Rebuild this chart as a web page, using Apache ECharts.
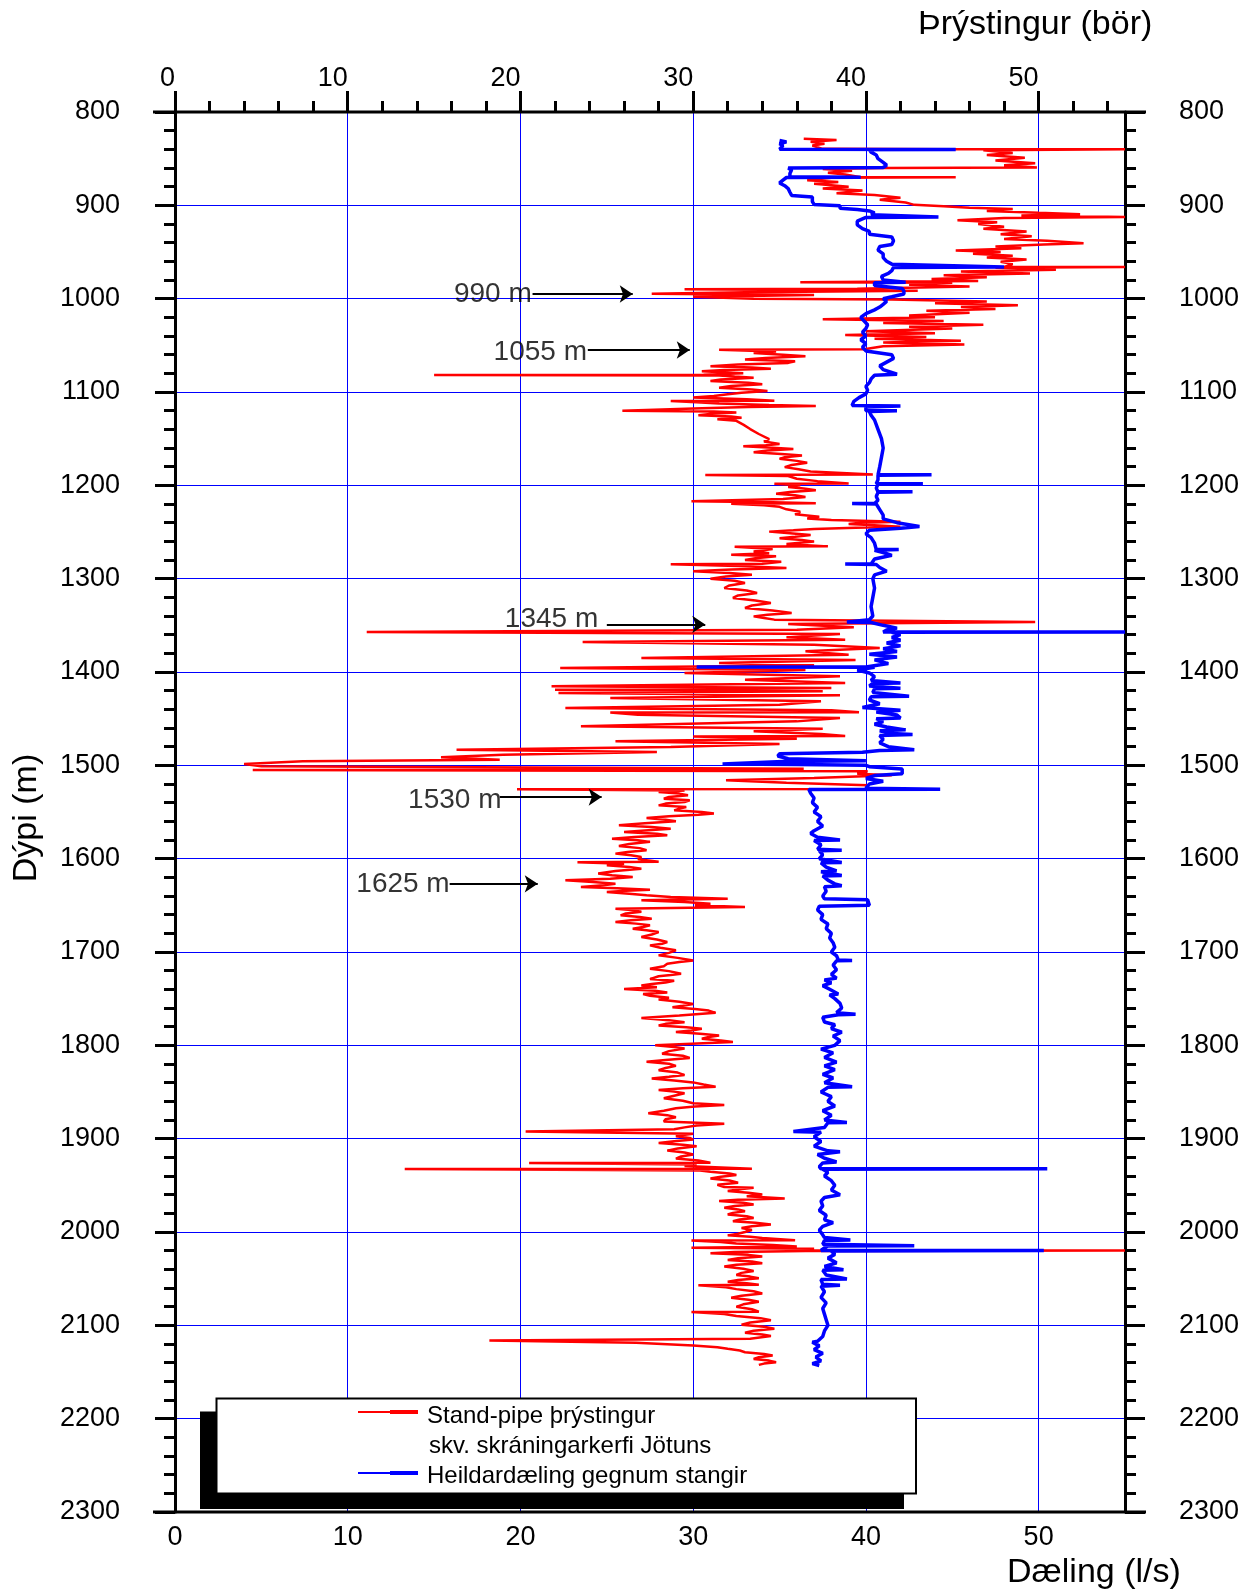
<!DOCTYPE html>
<html>
<head>
<meta charset="utf-8">
<script src="https://cdn.jsdelivr.net/npm/echarts@6/dist/echarts.min.js"></script>
<style>
html,body{margin:0;padding:0;background:#ffffff;}
#chart{width:1259px;height:1594px;}
</style>
</head>
<body>
<div id="chart"></div>
<script>
// Stand-pipe pressure (bar) logged against bit depth (m): [depth, pressure]
const standPipePressure = [
[828.7,36.4],[830,38.3],[832,36.8],[834,37.6],[836,36.9],[839.5,37.5],[840,45.3],[840,55],[841,46.8],[844,48.5],[846,47],[849,49.2],[852,47.5],[855,49.8],[857,48],[859.5,49.9],[860.1,41],[861,37.5],[863,39.2],[865,37.8],[867,38.8],[869.8,39.7],[869.8,45.2],[870.5,38],[873,36.6],[875,38.4],[877,37],[880,39],[882,37.5],[884,39.8],[887,38.3],[889,40.5],[892,42],[894,40.8],[897,42.3],[899.5,42.8],[901,44.5],[902.5,46],[904,48.5],[906,47],[908,50],[909.5,52.4],[911,49],[912.6,55],[913.5,48],[916,45.3],[918,47.6],[920,46.5],[923,48],[925,46.8],[928,49.3],[931,47.8],[933,49.6],[936,48],[938,50.5],[940.5,52.6],[942,50.3],[944,47.5],[946,49],[948.4,45.2],[950,47.8],[952,46.2],[954,48.5],[956,47],[958,49.3],[960.5,47.8],[963,48.5],[966,48],[966.2,55],[967,47.5],[969,51],[971,45.5],[973,49.5],[975,44.5],[977,47],[979,43.8],[981,46.5],[982.3,36.2],[983,45],[985,42.5],[987,46],[989.4,39.5],[990,29.5],[991.5,43],[993,33],[994.8,27.6],[996,37],[998,30],[1000,33.5],[1001,41.5],[1003,47],[1005,44],[1007,48.8],[1009,45.5],[1011,47.5],[1013,43.5],[1015,46],[1018,42.5],[1020,44],[1022,37.5],[1024,44.5],[1026,41],[1028,46.8],[1030,42.5],[1032,45],[1035,40],[1037,44],[1039,38.8],[1041,43.5],[1043,40.5],[1045,45.5],[1047,41],[1049,45.7],[1051,41],
[1054.3,39.9],[1054.6,31.5],[1056.5,34.8],[1058.2,33.5],[1060,35.2],[1061.7,36.5],[1063.5,34.2],[1065.2,33],[1067,35.9],[1068.8,35.5],[1070.5,32.6],[1072.3,31],[1073.8,33.4],[1075,34.5],[1076.5,31.8],[1077.7,30.5],[1079.8,32.9],[1081.5,30.6],[1081.9,15],[1082.3,31.5],[1083.5,32.4],[1084.8,33.5],[1086.6,31.6],[1088.3,31],[1090,33.2],[1091.8,34],[1093.6,32.2],[1095.4,31.5],[1097.2,33.4],[1098.9,34.3],[1100.7,32.8],[1102.5,32],[1104.3,31.2],[1106,30],[1107.8,33.1],[1109.4,34.7],[1109.6,28.7],[1111,30.2],[1112.4,31.5],[1113.8,34.4],[1114.9,37.1],[1116.2,33.2],[1117.4,30.5],[1120.2,25.9],[1121,31.2],[1122,32.5],[1123.4,31.1],[1124.8,30.3],[1126.2,32.2],[1127.7,32.8],[1129.3,31.4],[1130.9,32.5],[1135,32.9],[1139.7,33.3],[1145,33.8],[1150.4,34.4],[1153,34.1],[1155.7,35],[1157,34.2],[1158.2,32.9],[1159.6,34.6],[1161,35.8],[1162.8,34.3],[1164.5,33.5],[1166.3,35.1],[1168.1,36.3],[1169.8,35.3],[1171.6,35],[1173.8,36],[1175.9,36.6],[1178.2,35.7],[1180.5,35.3],[1182.8,36.1],[1185.1,36.8],[1188.5,40.4],[1188.9,30.7],[1190,35.5],[1192.9,36],[1195.5,37.2],[1198,39],[1198.4,34.7],[1200,36.2],[1201.8,35.5],[1203.5,36.4],[1205.3,37.1],[1207.1,35.6],[1208.9,34.8],[1210.6,35.9],[1212.4,36.5],[1214.7,35.2],[1217,29.9],[1218.2,34.6],[1219.3,37.1],[1219.7,32.2],[1221.4,34.1],[1223,35],[1225.7,35.4],[1228.4,36.2],[1231,35.9],[1233.7,37.3],[1235.5,36.6],[1237.2,38],[1239,42],[1240.2,39.7],[1241.5,39],[1242.9,40.5],[1244.3,42],[1245.5,39.4],[1246.8,37],[1248.2,35.8],[1249.6,34.4],[1251.4,35.6],[1253.2,36.8],[1255,35.9],[1256.7,35],[1258.5,36.3],[1260.3,37],[1262.8,35.4],[1265.4,37.8],[1265.8,32.4],[1268.3,34.6],[1270.9,33.5],[1272.7,34.4],[1274.5,32.2],
[1276,34.8],[1278,33.6],[1280,33],[1282,35.1],[1284.1,34],[1284.5,28.7],[1286.5,32.6],[1288.6,35.4],[1290.3,32.2],[1292,30],[1293.8,32.1],[1295.7,33.4],[1297.8,31.9],[1300,31],[1302.3,32.4],[1304.6,33],[1307.3,32.1],[1310,31.8],[1312.7,33.1],[1315.4,33.7],[1318,32.6],[1320.7,32.3],[1323.3,33.6],[1326,34.5],[1328.7,33.4],[1331.4,33],[1334.1,34.6],[1336.8,35.7],[1338.6,34.3],[1340.4,33.5],[1342.1,34.1],[1343.9,34.7],[1346.4,49.8],[1348.6,35.5],[1352,39.3],[1354.6,36],[1357.1,11.1],[1359.3,38.5],[1362.9,35.4],[1365.4,38.8],[1367.9,23.6],[1370.7,37],[1374.3,40.8],[1377.9,36.5],[1381.4,39],[1385,27],[1387.1,39.4],[1390.4,31.5],[1392.9,37],[1395.7,22.3],[1397.9,36.5],[1401,29.5],[1404.6,38.5],[1408.2,33],[1411.8,38.8],[1415.4,21.8],[1417.1,38],[1418.9,22],[1420.7,37.5],[1422.5,22.2],[1425,38.5],[1427.9,25.2],[1431.4,37.4],[1435,35],[1438.6,22.6],[1441,38],[1443,39.6],[1443.4,25.2],[1445.7,26.8],[1449.3,38.5],[1452.9,36],[1458.2,23.5],[1460.7,37.5],[1463.6,33.5],[1466.4,37.4],[1468.7,38.8],[1469.1,30],[1471.4,36],[1474.3,25.5],[1477.1,35],[1480.4,28.7],[1483.2,16.3],[1485.7,27.9],[1488.6,19],[1491.4,15.4],[1493.9,18.8],[1495.7,7.4],[1498.6,4],
[1501,5],[1503.6,36.4],[1505,4.5],[1506.4,40.1],[1508.9,39.5],[1510.7,41.5],[1513.6,37],[1516,31.9],[1518.6,35.4],[1521.4,40.1],[1525.4,40.1],[1525.7,19.8],[1527,29.5],[1528.6,28],[1530.3,29.2],[1532,29.7],[1533.8,28.6],[1535.7,28.3],[1537.5,29.8],[1539.3,29.5],[1541,28.4],[1542.9,28],[1544.6,29.6],[1546.4,29.2],[1548.2,28.9],[1550,30.5],[1551.5,31.2],[1552.9,30.3],[1554.5,28.6],[1556.4,27.3],[1558.2,28.4],[1560,29],[1562,27.2],[1564.3,25.7],[1566,27.6],[1567.9,28.7],[1569.6,27.4],[1571.4,26],[1573.2,27.9],[1575,28.5],[1576.8,26.6],[1578.6,25.3],[1580.3,26.8],[1582,27.5],[1584.2,26.3],[1586.4,25.7],[1588.7,26.9],[1591,27.3],[1592.8,26.2],[1594.6,25.5],[1596.4,26.4],[1598.2,27],[1600.5,26.8],[1603.4,28],[1603.8,23.3],[1605.4,26],[1607,25],[1608.8,26.3],[1610.7,27],[1613.3,25.5],[1616,24.5],[1617.8,25.3],[1619.6,26.5],[1621.4,25.2],[1623.2,22.6],[1625,24.2],[1626.8,25.5],[1628.6,24.8],[1630.4,23.5],[1631.8,25.6],[1633.2,27.5],[1634.5,26.1],[1635.7,25],[1637.5,26.3],[1639.3,27.3],[1641,28.7],[1642.9,32],[1644.6,27],[1646.4,29.5],[1648.2,31],[1650,30.1],[1651.8,33],[1653.6,25.5],[1655.3,26.6],[1657,27],[1658.8,26.1],[1660.7,25.8],[1662.5,26.9],[1664.3,27.6],[1666.1,26.4],[1667.9,25.5],[1669.6,26.7],[1671.4,27.5],[1673.2,27.1],[1675,26.5],[1676.8,27.3],[1678.6,28],[1681.2,27.6],[1683.9,27],[1686.6,27.9],[1689.3,28.5],[1691.1,28.2],[1692.9,27.5],[1695.5,28.1],[1698.2,29],[1700.9,28.6],[1703.6,28],[1706.3,29.1],[1709,30],[1710.8,29.2],[1712.5,28.5],[1715.2,28.3],[1717.9,27.5],[1720.5,28.6],[1723.2,29.3],[1724.6,28.7],[1726,28],[1729,27.5],[1730.8,28.9],[1732.6,28.4],[1734.3,27.6],[1736,27],[1737.8,27.9],[1739.7,26],[1741.5,27.8],[1743.3,28.5],[1745,27.1],[1746.8,27.5],[1749,28.6],[1751,28],[1753.3,29.2],[1755.7,30],[1757.5,29.4],[1759.2,28.8],[1761,30.1],[1762.8,30.9],[1765.2,31.3],[1768.1,29.2],[1770.6,27],[1773,28.6],[1775.2,29.5],[1777,28.4],[1778.7,28],[1780.5,29.6],[1782.3,30.5],[1784,29.9],[1785.8,29],[1787.6,30.4],[1789.4,31.5],[1791.1,30.9],[1792.9,30.5],[1794.7,31.6],[1796.5,32.3],[1798.3,29.9],
[1800,27.8],[1801.8,28.9],[1803.5,29.5],[1806.2,28.6],[1808.9,28.2],[1811.2,29.4],[1813.5,29.8],[1815.6,28.4],[1817.7,27.3],[1819.8,28.6],[1822,29],[1824.3,28.4],[1826.6,28],[1829.2,29.1],[1831.9,29.5],[1833.7,28.6],[1835.5,27.6],[1837.6,28.9],[1839.7,30],[1842,30.6],[1844.3,31.3],[1846.1,29.4],[1847.9,28],[1849.6,28.9],[1851.4,29.5],[1854,28.9],[1856.7,28.3],[1859.3,29.4],[1862,30],[1863.8,31.8],[1865.6,30.1],[1867.4,29],[1870,28.3],[1872.7,27.4],[1874.8,28.5],[1877,29],[1879.3,28.4],[1881.6,28.3],[1884,31.8],[1886,30.2],[1887.9,29.5],[1890,28.9],[1892.2,20.3],[1894.7,30],[1896.1,29.4],[1897.5,29],[1899.2,29.8],[1901,30],[1902.8,28.9],[1904.6,28],[1906.4,29.4],[1908.2,30.2],[1910.5,29.1],[1912.8,28.5],[1914.9,29.5],[1917,30],[1919.1,29.3],[1921.3,29],[1923.5,30.3],[1925.7,31],[1926.1,20.5],[1927.8,30.2],[1929.4,29.5],[1932.1,33.4],[1932.5,13.3],[1934,30.4],[1935.5,31],[1937.2,32.1],[1939,32.5],[1940.8,31.6],[1942.6,31],[1944.9,32.1],[1947.2,32.6],[1949.5,31.4],[1951.8,31.8],[1952.5,33.5],[1954.3,32.7],[1956,32],[1957.9,33.2],[1959.7,34],[1961.8,33.1],[1964,35.3],[1965.4,32.6],[1966.9,31.5],[1968.7,32.9],[1970.5,33.5],[1972.2,32.4],[1974,31.8],[1975.8,32.6],[1977.7,33],[1979.5,32.3],[1981.3,32],[1983.1,33.1],[1984.9,33.5],[1986.7,32.7],[1988.5,32.3],[1990.2,33.6],[1992,34.5],[1993.8,33.4],[1995.7,32.8],[1997.8,33.4],
[2000,33],[2001.8,32.6],[2003.6,32],[2005,33.3],[2006.5,34],[2008.8,35.9],[2009.2,29.9],[2010.7,31.6],[2012.2,32.5],[2013.9,34.6],[2015.5,36],[2017,29.9],[2018,37],[2019.8,36],[2019.8,55],[2020.3,36.5],[2021.5,32.4],[2022.7,31],[2024.5,33.2],[2026.3,34],[2028.1,32.6],[2029.9,32],[2031.7,33.4],[2033.5,34],[2035.2,32.5],[2037,31.8],[2039.3,32.9],[2041.7,33.5],[2043.8,32.8],[2046,32.5],[2047.8,33.3],[2049.6,33.8],[2051.4,32.6],[2053.2,32],[2054.9,33.1],[2056.6,33.8],[2057,30.3],[2059.1,31.9],[2061.2,32.5],[2063.5,33.5],[2065.8,34],[2068.2,32.8],[2070.5,32.2],[2072.6,33.2],[2074.8,33.8],[2077.5,32.9],[2080.2,32.5],[2082.8,33.4],[2085.4,33.8],[2085.8,29.9],[2087.8,31.8],[2089.9,32.5],[2092.3,33.9],[2094.6,34.5],[2097,33.3],[2099.3,32.8],[2101.5,34.1],[2103.6,34.7],[2105.8,33.5],[2107.9,33],[2109.7,34],[2111.5,34.5],[2114.4,33.3],[2116.2,18.2],[2118.7,26.7],[2121.6,30],[2123.4,31.4],[2125.2,32],[2127,32.7],[2128.8,33],[2130.6,34.1],[2132.4,34.6],[2134.2,33.8],[2136,33.5],[2137.8,34.4],[2139.6,34.8],[2141,34.1],[2142.4,33.8]
];

// Total pumping through the drill string (l/s) against depth (m): [depth, rate]
const pumpingRate = [
[830.5,35],[832,35.4],[834,35],[836,35.2],[839.8,35],[840.1,45.2],[840.5,40.2],[843,40.3],[846,40.6],[850,40.7],[854,41],[857,41.2],[859.5,41],[860.1,35.5],[862,35.7],[866,35.6],[869.5,35.6],[869.8,39.7],[870.2,35.4],[873,35.2],[876,35],[879,35.3],[882,35.5],[886,35.6],[889.4,35.7],[891,36.9],[896,36.9],[899,37],[900.5,38.5],[903,38.5],[904.5,39.5],[906,40.2],[908,40.5],[910,40.3],[912.6,44.2],[913,40],[917,39.5],[921,39.5],[925,39.8],[928,40.2],[931,40.2],[934,41.5],[938,41.6],[942,41.5],[944,40.8],[948,40.7],[952,41],[956,41],[960,41.2],[963,41.5],[966.2,48],[966.5,41.6],[970,41.5],[973,41.3],[976,40.9],[980,41],[982.3,42.3],[983,40.5],[986,40.5],[989,42.1],[992,42.2],[995,42.2],[998,41.5],
[1000,41],[1003,41.2],[1006,41],[1009,40.8],[1012,40.5],[1016,40],[1020,39.7],[1024,39.9],[1028,40.1],[1032,40],[1036,39.8],[1040,40],[1044,39.7],[1048,40],[1052,39.8],[1056,40],[1060,41.5],[1064,41.6],[1068,41.2],[1072,40.8],[1076,41],[1081,41.8],[1082,40.5],[1086,40.3],[1090,40.2],[1094,40],[1098,40.1],[1102,40],[1106,39.6],[1110,39.3],[1114.5,39.2],[1115,42],[1116,40],[1120,40],[1120.2,41.8],[1121,40.2],[1125,40.3],[1130,40.5],[1140,40.7],[1150,40.9],[1160,41],[1170,40.9],[1180,40.8],[1188.7,40.7],[1188.7,43.8],[1189.2,40.7],[1194,40.7],[1198.2,40.6],[1198.2,43.3],[1198.7,40.7],[1203,40.6],[1207,40.7],[1207,42.7],[1207.5,40.7],[1212,40.6],[1216,40.7],[1219.5,40.5],[1219.5,39.2],[1220,40.6],[1226,40.8],[1232,41],[1236,41],[1240,41.8],[1244,43.1],[1246,42],[1248,40.2],[1252,40],[1256,40.3],[1262,40.5],[1268.8,40.6],[1268.8,41.9],[1269.5,40.5],[1272,41],[1275,41.5],[1279,40.5],[1284.3,40.3],[1284.3,38.8],[1284.8,40.6],[1288,40.8],[1292,41.2],[1296,40.5],
[1300,40.4],[1310,40.5],[1320,40.4],[1330,40.3],[1340,40.4],[1344,40.2],[1346.4,38.9],[1347,40.3],[1350,41],[1353,41.8],[1355,41.2],[1357.1,41],[1357.1,55],[1357.5,41.5],[1360,42],[1363,41.5],[1366,42],[1369,41.2],[1372,42],[1375,41],[1378,41.8],[1381,40.2],[1384,41.8],[1387,40.5],[1391,41.3],[1394.6,40],[1394.6,30.2],[1395,40.5],[1398,39.5],[1401,40.2],[1405,40.5],[1409,40.3],[1411.8,42],[1412.3,40.4],[1415,40.2],[1417.5,42],[1418,40.5],[1422,40.4],[1426,42.5],[1426.5,40.3],[1430,40.2],[1434,40.8],[1438,39.8],[1441,42],[1443,40.6],[1446,41.8],[1449.3,42],[1450,40.6],[1453,41],[1456,40.5],[1459,41.2],[1462,42.3],[1463,40.8],[1466,41.5],[1467,42.7],[1468,40.8],[1472,41],[1476,40.8],[1480,41.3],[1483.2,42.8],[1484,40.8],[1486,39.8],[1487.5,35],[1490,34.9],[1493,35.5],[1495,40],[1496,35.2],[1498.6,31.7],[1499,36],
[1500,40],[1501.5,40.2],[1504,42.1],[1509,42.1],[1511,40.5],[1514,40],[1517,41],[1520,40.2],[1524.5,40],[1525.7,44.3],[1526,36.7],[1530,36.8],[1535,37],[1540,36.9],[1545,37.2],[1550,37],[1555,37.4],[1560,37.2],[1565,37.5],[1570,37],[1573,36.8],[1577,37.2],[1580,38.5],[1580.5,37],[1585,37.4],[1590,37.2],[1591,38.6],[1591.5,37.3],[1596,37.5],[1600,37.3],[1604,38.6],[1604.5,37.4],[1609,37.7],[1613,38.3],[1614,37.4],[1618,38.6],[1618.5,37.5],[1623,37.8],[1627,38.2],[1629,38.6],[1630,37.6],[1635,37.7],[1640,37.5],[1643,37.6],[1644,40.1],[1650,40.2],[1651,37.3],[1655,37.2],[1660,37.5],[1665,37.4],[1670,37.8],[1675,37.7],[1680,38],[1685,37.9],[1690,38.1],[1695,38.2],
[1700,38],[1704,38.3],[1708.5,38.4],[1709,39.2],[1709.5,38.3],[1714,38.1],[1719,38.3],[1724,38],[1728,38.3],[1730,37.6],[1733,38],[1736,37.5],[1740,37.9],[1745,38.4],[1746,37.9],[1750,38.2],[1755,38.5],[1760,38.6],[1765,38.3],[1766.8,39.4],[1767.3,38.4],[1770,37.5],[1775,37.6],[1778,38.2],[1782,38],[1786,38.6],[1790,38.1],[1795,38.5],
[1800,38.2],[1804,37.4],[1808,38.1],[1813,37.6],[1818,38.3],[1822,37.6],[1826,38.2],[1831,37.5],[1835,38.1],[1840,37.6],[1844.3,39.2],[1845,37.8],[1850,37.4],[1855,38],[1860,37.8],[1865,38.2],[1870,37.5],[1875,38],[1880,37.6],[1882.6,38.9],[1883,37.8],[1888,37.6],[1892.2,35.8],[1893,37.4],[1898,37],[1903,37.4],[1908,37],[1913,37.8],[1914,38.5],[1917,37.2],[1921,37.6],[1925,38.3],[1926,37.5],[1930,37.3],[1932.3,37.4],[1932.3,50.5],[1932.8,37.5],[1936,37.8],[1940,37.6],[1945,38],[1950,38.2],[1955,38],[1960,38.5],[1963,37.6],[1967,37.4],[1972,37.5],[1977,37.3],[1982,37.7],[1987,37.6],[1990,38.1],[1994,37.5],[1998,37.3],
[2003,37.5],[2006,37.6],[2008.6,39.1],[2009,37.6],[2013,37.5],[2014.6,42.8],[2015,37.8],[2017,37.6],[2019.8,37.4],[2019.8,50.3],[2020.3,38],[2024,38.2],[2028,37.8],[2033,38.3],[2037,37.6],[2040.5,38.7],[2041,37.5],[2046,37.7],[2050.3,38.9],[2051,37.4],[2056,37.5],[2057,38.5],[2058,37.4],[2064,37.6],[2070,37.4],[2076,37.7],[2082,37.5],[2088,37.6],[2094,37.7],[2100,37.8],[2106,37.6],[2112,37.5],[2117,37.2],[2118,36.9],[2122,37.3],[2126,37],[2130,37.5],[2134,37.1],[2138,37.4],[2141,36.9],[2143,37.3]
];

// Depth markers: label, label centre (x value, depth), arrow from/to (x value) at arrow depth
const markerLabels = ['990 m', '1055 m', '1345 m', '1530 m', '1625 m'];
const markerLabelX = [18.4, 21.15, 21.8, 16.2, 13.2];
const markerLabelDepth = [995, 1057.5, 1344, 1537, 1627];
const markerArrowFrom = [20.7, 23.9, 25.0, 18.8, 15.9];
const markerArrowTo = [26.5, 29.8, 30.7, 24.7, 21.0];
const markerArrowDepth = [995, 1055, 1349, 1534, 1627];

// Axis ticks
const valueMajorTicks = [0, 10, 20, 30, 40, 50];
const valueMinorTicks = [2, 4, 6, 8, 12, 14, 16, 18, 22, 24, 26, 28, 32, 34, 36, 38, 42, 44, 46, 48, 52, 54];

const FONT = "'Liberation Sans', Arial, sans-serif";
const BLACK = '#000000';
const GRID_BLUE = '#0000ff';

const chart = echarts.init(document.getElementById('chart'), null, { renderer: 'canvas' });

const G = { left: 175, top: 112, width: 950, height: 1400 };

const depthAxisCommon = {
  type: 'value',
  inverse: true,
  min: 800,
  max: 2300,
  interval: 100,
  axisLine: { show: true, onZero: false, lineStyle: { color: BLACK, width: 3 } },
  axisTick: { show: true, inside: false, length: 20, lineStyle: { color: BLACK, width: 3 } },
  minorTick: { show: true, splitNumber: 5, length: 11, lineStyle: { color: BLACK, width: 3 } }
};

const option = {
  animation: false,
  backgroundColor: '#ffffff',
  textStyle: { fontFamily: FONT },
  grid: { left: G.left, top: G.top, width: G.width, height: G.height, containLabel: false },
  xAxis: [
    { // pumping rate, bottom
      type: 'value', position: 'bottom', min: 0, max: 55, interval: 10,
      axisLine: { show: false, onZero: false },
      axisTick: { show: false },
      axisLabel: { customValues: valueMajorTicks, fontSize: 27, color: BLACK, fontFamily: FONT, margin: 12 },
      splitLine: { show: true, lineStyle: { color: GRID_BLUE, width: 1 } }
    },
    { // pressure, top (major ticks + labels)
      type: 'value', position: 'top', min: 0, max: 55, interval: 10,
      axisLine: { show: false, onZero: false },
      axisTick: { show: true, customValues: valueMajorTicks, length: 21, lineStyle: { color: BLACK, width: 3 } },
      axisLabel: { customValues: valueMajorTicks, fontSize: 27, color: BLACK, fontFamily: FONT, margin: 20, align: 'right' },
      splitLine: { show: false }
    },
    { // pressure, top (minor ticks)
      type: 'value', position: 'top', min: 0, max: 55, interval: 2,
      axisLine: { show: false, onZero: false },
      axisTick: { show: true, customValues: valueMinorTicks, length: 11, lineStyle: { color: BLACK, width: 3 } },
      axisLabel: { show: false },
      splitLine: { show: false }
    }
  ],
  yAxis: [
    Object.assign({}, depthAxisCommon, {
      position: 'left',
      axisLabel: { fontSize: 27, color: BLACK, fontFamily: FONT, margin: 55, formatter: v => String(v) },
      splitLine: { show: true, lineStyle: { color: GRID_BLUE, width: 1 } }
    }),
    Object.assign({}, depthAxisCommon, {
      position: 'right',
      splitLine: { show: false },
      axisLabel: { fontSize: 27, color: BLACK, fontFamily: FONT, margin: 54, align: 'left', formatter: v => String(v) }
    })
  ],
  series: [
    {
      name: 'Stand-pipe þrýstingur',
      type: 'line',
      xAxisIndex: 1,
      yAxisIndex: 0,
      data: standPipePressure.map(p => [p[1], p[0]]),
      showSymbol: false,
      symbol: 'none',
      lineStyle: { color: '#ff0000', width: 2.5 },
      z: 3
    },
    {
      name: 'Heildardæling gegnum stangir',
      type: 'line',
      xAxisIndex: 0,
      yAxisIndex: 0,
      data: pumpingRate.map(p => [p[1], p[0]]),
      showSymbol: false,
      symbol: 'none',
      lineStyle: { color: '#0000ff', width: 3.5 },
      z: 4
    },
    {
      name: 'markers',
      type: 'scatter',
      xAxisIndex: 0,
      yAxisIndex: 0,
      symbolSize: 0,
      silent: true,
      z: 6,
      data: markerLabels.map((t, i) => ({ value: [markerLabelX[i], markerLabelDepth[i]], name: t })),
      label: {
        show: true, position: 'inside', formatter: p => p.name,
        fontSize: 28, color: BLACK, fontFamily: FONT, textBorderWidth: 0
      },
      markLine: {
        silent: true,
        symbol: ['none', 'arrow'],
        symbolSize: 13,
        label: { show: false },
        lineStyle: { color: BLACK, width: 2, type: 'solid' },
        emphasis: { disabled: true },
        data: markerLabels.map((t, i) => [
          { coord: [markerArrowFrom[i], markerArrowDepth[i]] },
          { coord: [markerArrowTo[i], markerArrowDepth[i]] }
        ])
      }
    }
  ],
  graphic: [
    // horizontal axis lines, running a little past the frame
    { type: 'line', z: 100, shape: { x1: 153, y1: 112, x2: 1146, y2: 112 }, style: { stroke: BLACK, lineWidth: 3 } },
    { type: 'line', z: 100, shape: { x1: 153, y1: 1512, x2: 1146, y2: 1512 }, style: { stroke: BLACK, lineWidth: 3 } },
    // axis titles
    { type: 'text', z: 100, left: 918, top: 8, style: { text: 'Þrýstingur (bör)', font: "34px " + FONT, fill: BLACK } },
    { type: 'text', z: 100, left: 1007, top: 1556, style: { text: 'Dæling (l/s)', font: "34px " + FONT, fill: BLACK } },
    { type: 'text', z: 100, x: 27, y: 818, rotation: Math.PI / 2,
      style: { text: 'Dýpi (m)', font: "34px " + FONT, fill: BLACK, align: 'center', verticalAlign: 'middle' } },
    // legend box with its drop shadow
    { type: 'rect', z: 50, shape: { x: 200, y: 1411.5, width: 704, height: 97.5 }, style: { fill: BLACK } },
    { type: 'rect', z: 51, shape: { x: 216.5, y: 1398.5, width: 699.5, height: 95 }, style: { fill: '#ffffff', stroke: BLACK, lineWidth: 2 } },
    { type: 'line', z: 52, shape: { x1: 358, y1: 1412, x2: 390, y2: 1412 }, style: { stroke: '#ff0000', lineWidth: 2 } },
    { type: 'line', z: 52, shape: { x1: 390, y1: 1412, x2: 418, y2: 1412 }, style: { stroke: '#ff0000', lineWidth: 4 } },
    { type: 'text', z: 52, x: 427, y: 1416, style: { text: 'Stand-pipe þrýstingur', font: "24px " + FONT, fill: BLACK, verticalAlign: 'middle' } },
    { type: 'text', z: 52, x: 429, y: 1446, style: { text: 'skv. skráningarkerfi Jötuns', font: "24px " + FONT, fill: BLACK, verticalAlign: 'middle' } },
    { type: 'line', z: 52, shape: { x1: 358, y1: 1473, x2: 390, y2: 1473 }, style: { stroke: '#0000ff', lineWidth: 2 } },
    { type: 'line', z: 52, shape: { x1: 390, y1: 1473, x2: 418, y2: 1473 }, style: { stroke: '#0000ff', lineWidth: 4 } },
    { type: 'text', z: 52, x: 427, y: 1476, style: { text: 'Heildardæling gegnum stangir', font: "24px " + FONT, fill: BLACK, verticalAlign: 'middle' } }
  ]
};

chart.setOption(option);
</script>
</body>
</html>
